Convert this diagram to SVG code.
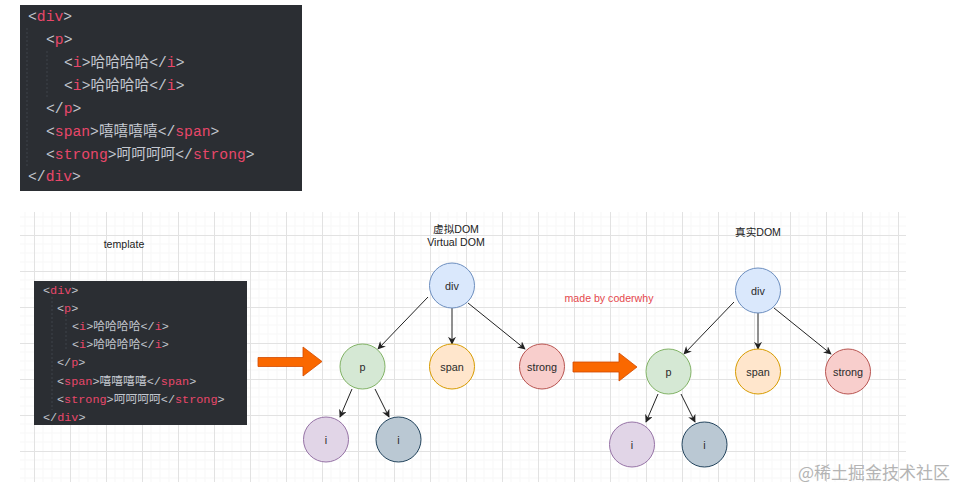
<svg xmlns="http://www.w3.org/2000/svg" width="975" height="499" viewBox="0 0 975 499">
<style>
.code{font-family:"Liberation Mono","Noto Sans CJK SC",monospace;fill:#c3c7cf}
.tg{fill:#e8476a}
.lbl{font-family:"Liberation Sans","Noto Sans CJK SC",sans-serif;font-size:10.6px;fill:#222;text-anchor:middle}
.nt{font-family:"Liberation Sans",sans-serif;font-size:10.8px;fill:#2a2a2a;text-anchor:middle}
.edge{stroke:#222;stroke-width:1;fill:none;marker-end:url(#ah)}
.big{fill:#fa6800;stroke:#d04a00;stroke-width:0.8}
</style>
<defs>
<marker id="ah" viewBox="0 0 10 10" refX="9" refY="5" markerWidth="8" markerHeight="8" markerUnits="userSpaceOnUse" orient="auto">
<path d="M0,0 L10,5 L0,10 L3,5 z" fill="#222"/>
</marker>
<pattern id="grid" x="34" y="235" width="36" height="36" patternUnits="userSpaceOnUse">
<path d="M9,0V36M18,0V36M27,0V36M0,9H36M0,18H36M0,27H36" stroke="#f7f7f7" stroke-width="1"/>
<path d="M0.5,0V36M0,0.5H36" stroke="#e2e2e2" stroke-width="1"/>
</pattern>
</defs>
<rect width="975" height="499" fill="#ffffff"/>

<!-- top code box -->
<g id="code-top">
<rect x="20" y="5" width="282" height="186" fill="#2b2e33"/>
<path d="M27,28V168M47,51V97" stroke="#3f434a" stroke-width="1" stroke-dasharray="2,2"/>
<g class="code" font-size="14.7">
<text x="28" y="21">&lt;<tspan class="tg">div</tspan>&gt;</text>
<text x="46" y="44">&lt;<tspan class="tg">p</tspan>&gt;</text>
<text x="64" y="67">&lt;<tspan class="tg">i</tspan>&gt;哈哈哈哈&lt;/<tspan class="tg">i</tspan>&gt;</text>
<text x="64" y="90">&lt;<tspan class="tg">i</tspan>&gt;哈哈哈哈&lt;/<tspan class="tg">i</tspan>&gt;</text>
<text x="46" y="113">&lt;/<tspan class="tg">p</tspan>&gt;</text>
<text x="46" y="136">&lt;<tspan class="tg">span</tspan>&gt;嘻嘻嘻嘻&lt;/<tspan class="tg">span</tspan>&gt;</text>
<text x="46" y="159">&lt;<tspan class="tg">strong</tspan>&gt;呵呵呵呵&lt;/<tspan class="tg">strong</tspan>&gt;</text>
<text x="28" y="181">&lt;/<tspan class="tg">div</tspan>&gt;</text>
</g>
</g>

<!-- grid -->
<rect x="20" y="212" width="886" height="270" fill="url(#grid)"/>

<text class="lbl" x="124" y="248">template</text>
<text class="lbl" x="456" y="233">虚拟DOM</text>
<text class="lbl" x="456" y="246">Virtual DOM</text>
<text class="lbl" x="758" y="236">真实DOM</text>
<text class="lbl" x="609" y="302" style="fill:#e5484d">made by coderwhy</text>

<!-- template code box -->
<g id="code-template">
<rect x="34" y="281" width="213" height="144" fill="#2b2e33"/>
<path d="M52,297V410M66,315V350" stroke="#3f434a" stroke-width="1" stroke-dasharray="2,2"/>
<g class="code" font-size="11.8">
<text x="43" y="294">&lt;<tspan class="tg">div</tspan>&gt;</text>
<text x="57" y="312">&lt;<tspan class="tg">p</tspan>&gt;</text>
<text x="72" y="330">&lt;<tspan class="tg">i</tspan>&gt;哈哈哈哈&lt;/<tspan class="tg">i</tspan>&gt;</text>
<text x="72" y="348">&lt;<tspan class="tg">i</tspan>&gt;哈哈哈哈&lt;/<tspan class="tg">i</tspan>&gt;</text>
<text x="57" y="366">&lt;/<tspan class="tg">p</tspan>&gt;</text>
<text x="57" y="385">&lt;<tspan class="tg">span</tspan>&gt;嘻嘻嘻嘻&lt;/<tspan class="tg">span</tspan>&gt;</text>
<text x="57" y="403">&lt;<tspan class="tg">strong</tspan>&gt;呵呵呵呵&lt;/<tspan class="tg">strong</tspan>&gt;</text>
<text x="43" y="421">&lt;/<tspan class="tg">div</tspan>&gt;</text>
</g>
</g>

<!-- big orange arrows -->
<g id="arrow-1"><polygon class="big" points="258,357.5 303,357.5 303,347 322,361.5 303,376 303,366.5 258,366.5"/></g>
<g id="arrow-2"><polygon class="big" points="573,362 619,362 619,353 637,367 619,381 619,372 573,372"/></g>

<!-- connectors -->
<g id="connectors">
<path class="edge" d="M428,297L378,349"/>
<path class="edge" d="M452,308L452,344"/>
<path class="edge" d="M468,303L525,349"/>
<path class="edge" d="M352,389L340,417"/>
<path class="edge" d="M375,389L389,417"/>
<path class="edge" d="M734,302L684,354"/>
<path class="edge" d="M758,313L758,349"/>
<path class="edge" d="M774,308L831,354"/>
<path class="edge" d="M658,394L646,422"/>
<path class="edge" d="M681,394L695,422"/>
</g>

<!-- virtual DOM nodes -->
<g id="v-div"><circle cx="452" cy="285.5" r="22.5" fill="#dae8fc" stroke="#6c8ebf"/><text class="nt" x="452" y="289.5">div</text></g>
<g id="v-p"><circle cx="362.5" cy="366.5" r="22.5" fill="#d5e8d4" stroke="#82b366"/><text class="nt" x="362.5" y="370.5">p</text></g>
<g id="v-span"><circle cx="452" cy="366.5" r="22.5" fill="#ffe6cc" stroke="#d79b00"/><text class="nt" x="452" y="370.5">span</text></g>
<g id="v-strong"><circle cx="542" cy="366.5" r="22.5" fill="#f8cecc" stroke="#b85450"/><text class="nt" x="542" y="370.5">strong</text></g>
<g id="v-i1"><circle cx="326" cy="439.5" r="22.5" fill="#e1d5e7" stroke="#9673a6"/><text class="nt" x="326" y="443.5">i</text></g>
<g id="v-i2"><circle cx="398.5" cy="439.5" r="22.5" fill="#bac8d3" stroke="#23445d"/><text class="nt" x="398.5" y="443.5">i</text></g>

<!-- real DOM nodes -->
<g id="r-div"><circle cx="758" cy="290.5" r="22.5" fill="#dae8fc" stroke="#6c8ebf"/><text class="nt" x="758" y="294.5">div</text></g>
<g id="r-p"><circle cx="668.5" cy="371.5" r="22.5" fill="#d5e8d4" stroke="#82b366"/><text class="nt" x="668.5" y="375.5">p</text></g>
<g id="r-span"><circle cx="758" cy="371.5" r="22.5" fill="#ffe6cc" stroke="#d79b00"/><text class="nt" x="758" y="375.5">span</text></g>
<g id="r-strong"><circle cx="848" cy="371.5" r="22.5" fill="#f8cecc" stroke="#b85450"/><text class="nt" x="848" y="375.5">strong</text></g>
<g id="r-i1"><circle cx="632" cy="444.5" r="22.5" fill="#e1d5e7" stroke="#9673a6"/><text class="nt" x="632" y="448.5">i</text></g>
<g id="r-i2"><circle cx="704.5" cy="444.5" r="22.5" fill="#bac8d3" stroke="#23445d"/><text class="nt" x="704.5" y="448.5">i</text></g>

<text x="798" y="479" font-family="'Noto Sans CJK SC',sans-serif" font-size="17" fill="#b4b4b4">@稀土掘金技术社区</text>
</svg>
